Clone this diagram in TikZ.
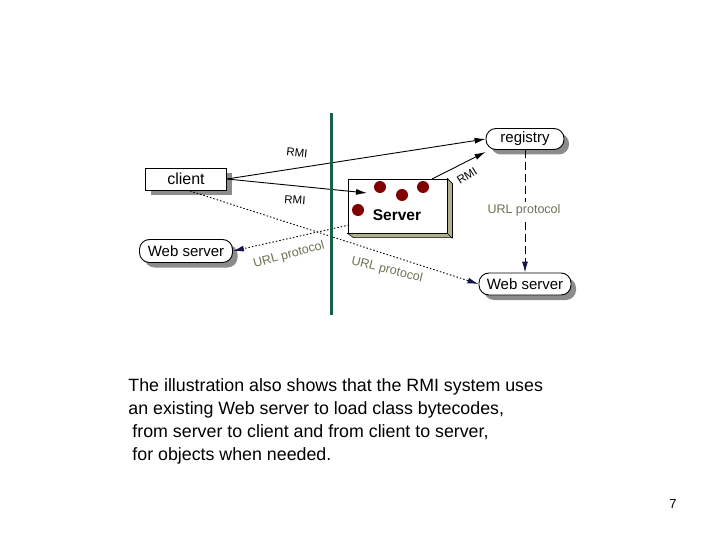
\documentclass[tikz,border=0pt]{standalone}
\usepackage{fontspec}
\setmainfont{Liberation Sans}
\usetikzlibrary{shapes,arrows.meta,positioning,calc,shadows}
\definecolor{wall}{RGB}{27,94,74}
\definecolor{lbl}{RGB}{112,112,84}
\definecolor{urltip}{RGB}{20,20,80}
\definecolor{shade}{RGB}{140,140,140}
\definecolor{side}{RGB}{176,176,140}
\definecolor{dotred}{RGB}{128,0,0}

\begin{document}
\begin{tikzpicture}[x=1pt,y=-1pt,line width=0.9pt,>={Latex[length=11pt,width=6pt]},
  box/.style={draw,fill=white,inner sep=0pt,font=\fontsize{16}{16}\selectfont,
    drop shadow={shadow xshift=5pt,shadow yshift=-5pt,fill=shade,opacity=1}},
  pill/.style={box,rounded corners=10pt,font=\fontsize{15}{15}\selectfont},
  rmi/.style={font=\fontsize{11.5}{11}\selectfont,inner sep=0pt},
  url/.style={font=\fontsize{12.5}{12}\selectfont,text=lbl,inner sep=0pt},
  urlline/.style={dash pattern=on 1.5pt off 2pt,-{Latex[length=11pt,width=6pt,color=urltip]}}]
  \useasboundingbox (0,0) rectangle (720,540);

  \node[box,minimum width=81pt,minimum height=22pt] (client) at (186,179) {client};
  \node[pill,minimum width=93pt,minimum height=23pt] (webl) at (186,251) {Web server};
  \node[pill,minimum width=78pt,minimum height=21pt] (registry) at (525,139) {registry};
  \node[pill,minimum width=92pt,minimum height=22pt] (webr) at (525,284) {Web server};

  % server box
  \node[draw,fill=white,inner sep=0pt,minimum width=99pt,minimum height=54pt] (server) at (397.5,206) {};
  \filldraw[fill=side,line width=0.6pt] (server.north east) -- ++(5,5) -- ++(0,54) -- ++(-99,0)
    -- (server.south west) -- (server.south east) -- cycle;
  \draw[line width=0.6pt] (server.south east) -- ++(5,5);
  \foreach \p in {(380,187),(402,195),(423,187),(358,210)}
    \fill[dotred] \p circle (6);
  \node[font=\bfseries\fontsize{15.5}{15}\selectfont] (srvname) at (397,215) {Server};

  \coordinate (srvin) at (367,193);
  \coordinate (srvtop) at (432,179);
  \coordinate (srvlow) at (349,225);
  \coordinate (clbot) at (190,191);

  % RMI calls
  \draw[->] (client.east) -- (registry.west);
  \node[rmi,rotate=-6] (rmia) at (297,153) {RMI};
  \draw[->] (client.east) -- (srvin);
  \node[rmi,rotate=-4] (rmib) at (295,200) {RMI};
  \draw[->] (srvtop) -- ([yshift=-2pt]registry.south west);
  \node[rmi,rotate=32] (rmic) at (467,176) {RMI};

  % URL protocol
  \draw[dash pattern=on 8pt off 4pt,-{Latex[length=11pt,width=6pt,color=urltip]}] (registry) -- (webr);
  \node[url,fill=white,inner sep=2pt] (urlv) at (524,210) {URL protocol};
  \draw[urlline] (clbot) -- (webr.west);
  \node[url,rotate=-14] (urlr) at (387,270) {URL protocol};
  \draw[urlline] (srvlow) -- (webl.east);
  \node[url,rotate=15] (urll) at (289,255) {URL protocol};

  % firewall
  \draw[wall,line width=3pt] (331,113) -- (331,315);

  \node[anchor=north west,inner sep=0pt,align=left,font=\fontsize{17.8}{23}\selectfont] (note) at (128,378.5)
    {The illustration also shows that the RMI system uses\\
     an existing Web server to load class bytecodes,\\
     \hspace*{4pt}from server to client and from client to server,\\
     \hspace*{4pt}for objects when needed.};
  \node[font=\fontsize{13}{13}\selectfont] (pageno) at (673,504) {7};
\end{tikzpicture}
\end{document}
